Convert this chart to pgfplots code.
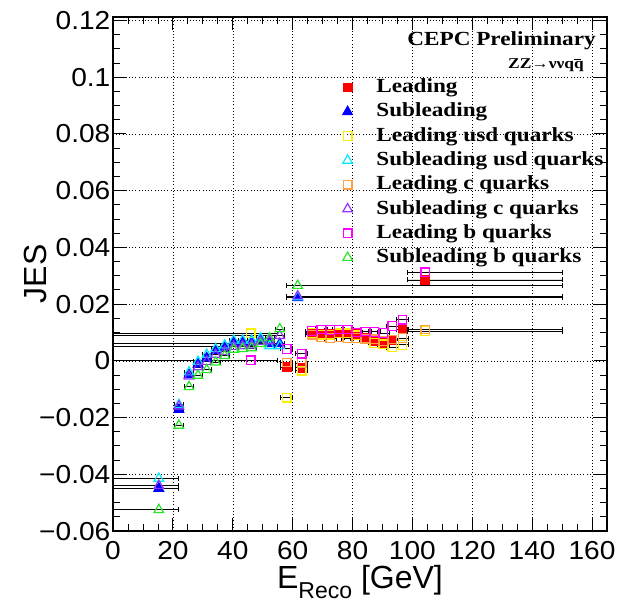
\documentclass[border=0pt]{standalone}
\usepackage{fontspec}
\setmainfont{Liberation Sans}
\newfontfamily\tickfont{Liberation Sans}[FakeStretch=1.08]
\newfontfamily\legfont{Liberation Serif}[FakeStretch=1.16]
\usepackage{pgfplots}
\usepackage{pgfplotstable}
\pgfplotsset{compat=1.18}

\definecolor{cRed}{RGB}{255,0,0}
\definecolor{cBlue}{RGB}{0,0,255}
\definecolor{cYellow}{RGB}{250,240,0}
\definecolor{cCyan}{RGB}{0,235,255}
\definecolor{cOrange}{RGB}{255,160,70}
\definecolor{cPurple}{RGB}{150,50,255}
\definecolor{cMagenta}{RGB}{255,0,255}
\definecolor{cGreen}{RGB}{40,230,40}

% x y  x-error minus / plus
\pgfplotstableread{
x y em ep
58.0 -0.0022 2 2
63.0 -0.0025 2 2
66.4 0.0100 2 2
69.6 0.0095 2 2
72.6 0.0095 2 2
75.4 0.0100 2 2
78.4 0.0100 2 2
81.4 0.0095 2 2
84.3 0.0080 2 2
87.3 0.0068 2 2
90.3 0.0063 2 2
93.3 0.0072 2 2
96.7 0.0112 2 2
104.3 0.0285 6 45.7
}\leading
\pgfplotstableread{
x y em ep
15.3 -0.0450 15.3 6.7
22.0 -0.0172 1.5 1.5
25.4 -0.0050 1.5 1.5
28.4 -0.0012 1.5 1.5
31.3 0.0010 1.5 1.5
34.3 0.0035 1.5 1.5
37.3 0.0046 1.5 1.5
40.3 0.0065 1.5 1.5
43.3 0.0065 1.5 1.5
46.3 0.0065 1.5 1.5
49.3 0.0075 1.5 1.5
52.3 0.0060 1.5 1.5
55.7 0.0060 55.7 1.5
61.7 0.0222 3.7 88.3
}\subleading
\pgfplotstableread{
x y em ep
46.0 0.0097 46 9
58.0 -0.0130 2 2
63.0 -0.0035 2 2
66.4 0.0098 2 2
69.6 0.0092 2 2
72.6 0.0092 2 2
75.4 0.0097 2 2
78.4 0.0097 2 2
81.4 0.0090 2 2
84.3 0.0075 2 2
87.3 0.0063 2 2
90.3 0.0058 2 2
93.3 0.0047 2 2
96.7 0.0056 2 2
104.3 0.0105 6 45.7
}\leadusd
\pgfplotstableread{
x y em ep
15.3 -0.0415 15.3 6.7
22.0 -0.0155 1.5 1.5
25.4 -0.0040 1.5 1.5
28.4 -0.0003 1.5 1.5
31.3 0.0022 1.5 1.5
34.3 0.0042 1.5 1.5
37.3 0.0055 1.5 1.5
40.3 0.0072 1.5 1.5
43.3 0.0072 1.5 1.5
46.3 0.0072 1.5 1.5
49.3 0.0080 1.5 1.5
52.3 0.0052 1.5 1.5
55.7 0.0052 55.7 1.5
61.7 0.0225 3.7 88.3
}\subusd
\pgfplotstableread{
x y em ep
58.0 -0.0006 2 2
63.0 -0.0008 2 2
66.4 0.0092 2 2
69.6 0.0082 2 2
72.6 0.0080 2 2
75.4 0.0082 2 2
78.4 0.0080 2 2
81.4 0.0080 2 2
84.3 0.0078 2 2
87.3 0.0076 2 2
90.3 0.0070 2 2
93.3 0.0075 2 2
96.7 0.0080 2 2
104.3 0.0110 6 45.7
}\leadc
\pgfplotstableread{
x y em ep
15.3 -0.0440 15.3 6.7
22.0 -0.0160 1.5 1.5
25.4 -0.0055 1.5 1.5
28.4 -0.0022 1.5 1.5
31.3 -0.0003 1.5 1.5
34.3 0.0022 1.5 1.5
37.3 0.0032 1.5 1.5
40.3 0.0050 1.5 1.5
43.3 0.0052 1.5 1.5
46.3 0.0055 1.5 1.5
49.3 0.0068 1.5 1.5
52.3 0.0070 1.5 1.5
55.7 0.0088 55.7 1.5
61.7 0.0228 3.7 88.3
}\subc
\pgfplotstableread{
x y em ep
46.0 0.0002 46 9
58.0 0.0042 2 2
63.0 0.0025 2 2
66.4 0.0105 2 2
69.6 0.0110 2 2
72.6 0.0108 2 2
75.4 0.0110 2 2
78.4 0.0110 2 2
81.4 0.0100 2 2
84.3 0.0103 2 2
87.3 0.0102 2 2
90.3 0.0098 2 2
93.3 0.0122 2 2
96.7 0.0145 2 2
104.3 0.0312 6 45.7
}\leadb
\pgfplotstableread{
x y em ep
15.3 -0.0525 15.3 6.7
22.0 -0.0228 1.5 1.5
25.4 -0.0092 1.5 1.5
28.4 -0.0052 1.5 1.5
31.3 -0.0032 1.5 1.5
34.3 -0.0005 1.5 1.5
37.3 0.0018 1.5 1.5
40.3 0.0040 1.5 1.5
43.3 0.0042 1.5 1.5
46.3 0.0045 1.5 1.5
49.3 0.0060 1.5 1.5
52.3 0.0080 1.5 1.5
55.7 0.0112 1.5 1.5
61.7 0.0265 3.7 88.3
}\subb

\pgfplotsset{
  jes/.style={only marks, line width=1.2pt,
    error bars/x dir=both, error bars/x explicit,
    error bars/error bar style={black, line width=0.9pt},
    error bars/error mark options={black, rotate=90, mark size=2.5pt, line width=0.9pt}},
}

\begin{document}
\begin{tikzpicture}
\begin{axis}[
  scale only axis, width=494pt, height=514pt,
  xmin=0, xmax=165, ymin=-0.06, ymax=0.1212,
  xtick={0,20,...,160},
  ytick={-0.06,-0.04,-0.02,0,0.02,0.04,0.06,0.08,0.1,0.12},
  yticklabels={−0.06,−0.04,−0.02,0,0.02,0.04,0.06,0.08,0.1,0.12},
  minor x tick num=3, minor y tick num=3,
  tick align=inside, tick pos=both,
  major tick length=13pt, minor tick length=7pt,
  tick style={black, line width=0.8pt},
  axis line style={line width=1.2pt},
  grid=major,
  major grid style={black, line width=0.5pt, dash pattern=on 1pt off 2.2pt},
  /pgf/number format/assume math mode=true,
  ticklabel style={font=\tickfont\fontsize{26}{29}\selectfont},
  yticklabel style={inner xsep=2.5pt, inner ysep=0pt, text depth=0pt},
  xticklabel style={inner ysep=0pt, yshift=-10pt},
  scaled y ticks=false,
  xlabel={E\raisebox{-0.32em}{\fontsize{23}{23}\selectfont Reco} [GeV]},
  xlabel style={font=\fontsize{32}{36}\selectfont, at={(rel axis cs:0.5,-0.066)}, anchor=north, inner sep=0pt},
  ylabel={JES},
  ylabel style={font=\fontsize{32}{36}\selectfont, at={(rel axis cs:-0.134,0.5)}, anchor=south, inner sep=0pt},
  legend image code/.code={\draw[#1] plot coordinates {(5pt,0pt)};},
  legend style={at={(axis cs:75.7,0.1014)}, anchor=north west, draw=none, fill=none,
    font=\legfont\bfseries\fontsize{20}{22}\selectfont,
    nodes={inner sep=0pt, text height=14pt, text depth=4pt, inner ysep=3.15pt},
    /tikz/every odd column/.style={column sep=24pt}},
  legend cell align=left,
]
\addplot[jes, mark=square*, mark size=4.3pt, color=cRed, fill=cRed]
  table[x=x, y=y, x error minus=em, x error plus=ep]{\leading};
\addplot[jes, mark=triangle*, mark size=5.5pt, color=cBlue, fill=cBlue]
  table[x=x, y=y, x error minus=em, x error plus=ep]{\subleading};
\addplot[jes, mark=square, mark size=4.3pt, color=cYellow]
  table[x=x, y=y, x error minus=em, x error plus=ep]{\leadusd};
\addplot[jes, mark=triangle, mark size=5.5pt, color=cCyan]
  table[x=x, y=y, x error minus=em, x error plus=ep]{\subusd};
\addplot[jes, mark=square, mark size=4.3pt, color=cOrange]
  table[x=x, y=y, x error minus=em, x error plus=ep]{\leadc};
\addplot[jes, mark=triangle, mark size=5.5pt, color=cPurple]
  table[x=x, y=y, x error minus=em, x error plus=ep]{\subc};
\addplot[jes, mark=square, mark size=4.3pt, color=cMagenta]
  table[x=x, y=y, x error minus=em, x error plus=ep]{\leadb};
\addplot[jes, mark=triangle, mark size=5.5pt, color=cGreen]
  table[x=x, y=y, x error minus=em, x error plus=ep]{\subb};
\legend{Leading, Subleading, Leading usd quarks, Subleading usd quarks,
  Leading c quarks, Subleading c quarks, Leading b quarks, Subleading b quarks}
\node[anchor=east, inner sep=0pt, font=\legfont\bfseries\fontsize{20}{22}\selectfont]
  at (axis cs:161.3,0.1130) {CEPC Preliminary};
\node[anchor=east, inner sep=0pt, font=\legfont\bfseries\fontsize{15}{17}\selectfont]
  at (axis cs:157.3,0.1042) {ZZ→ννq\makebox[0pt][l]{\rule[0.58em]{0.48em}{0.07em}}q};
\end{axis}
\path (-113pt,-78pt) rectangle (507pt,531pt);
\end{tikzpicture}
\end{document}
